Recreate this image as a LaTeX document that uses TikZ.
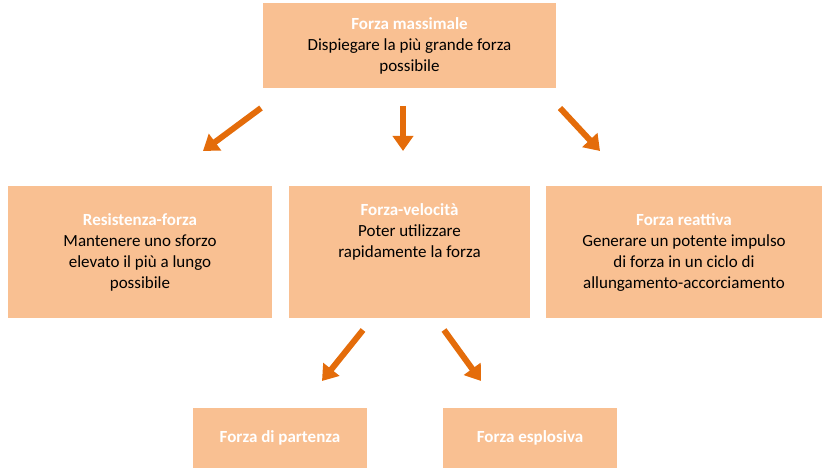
\documentclass[tikz,border=0pt]{standalone}
\usepackage{fontspec}
\setmainfont{Carlito}
\usetikzlibrary{positioning,arrows.meta}
\definecolor{boxfill}{HTML}{F9C092}
\definecolor{arrowcol}{HTML}{E46C0A}
\tikzset{
  box/.style={rectangle, fill=boxfill, align=center, font=\fontsize{17}{21}\selectfont, inner sep=0pt},
  line/.style={draw=arrowcol, line width=6pt, -{Triangle[length=15pt,width=20pt]}}
}
\newcommand{\ttl}[1]{\textcolor{white}{\textbf{#1}}}

\begin{document}
\begin{tikzpicture}[x=1pt, y=-1pt]
        \useasboundingbox (0,0) rectangle (830,470);
        % Place nodes
        \node at (409.5, 45.5) [box, minimum width=293pt, minimum height=85pt] (massimale) {\ttl{Forza massimale}\\Dispiegare la più grande forza\\possibile};
        \node at (140, 252) [box, minimum width=264pt, minimum height=132pt] (resistenza) {\ttl{Resistenza-forza}\\Mantenere uno sforzo\\elevato il più a lungo\\possibile};
        \node at (409.5, 252) [box, minimum width=241pt, minimum height=132pt] (velocita) {\ttl{Forza-velocità}\\Poter utilizzare\\rapidamente la forza\\[21pt]};
        \node at (684, 252) [box, minimum width=276pt, minimum height=132pt] (reattiva) {\ttl{Forza reattiva}\\Generare un potente impulso\\di forza in un ciclo di\\allungamento-accorciamento};
        \node at (280, 438) [box, minimum width=174pt, minimum height=60pt] (partenza) {\ttl{Forza di partenza}};
        \node at (530, 438) [box, minimum width=174pt, minimum height=60pt] (esplosiva) {\ttl{Forza esplosiva}};

        % Arrow ends
        \coordinate (a1s) at (261,108); \coordinate (a1e) at (203,151);
        \coordinate (a2s) at (403,106); \coordinate (a2e) at (403,151);
        \coordinate (a3s) at (560,108); \coordinate (a3e) at (600,151);
        \coordinate (a4s) at (363,330); \coordinate (a4e) at (322,381);
        \coordinate (a5s) at (444,330); \coordinate (a5e) at (481,381);

        % Draw edges
        \path [line] (a1s) -- (a1e);
        \path [line] (a2s) -- (a2e);
        \path [line] (a3s) -- (a3e);
        \path [line] (a4s) -- (a4e);
        \path [line] (a5s) -- (a5e);
\end{tikzpicture}
\end{document}
